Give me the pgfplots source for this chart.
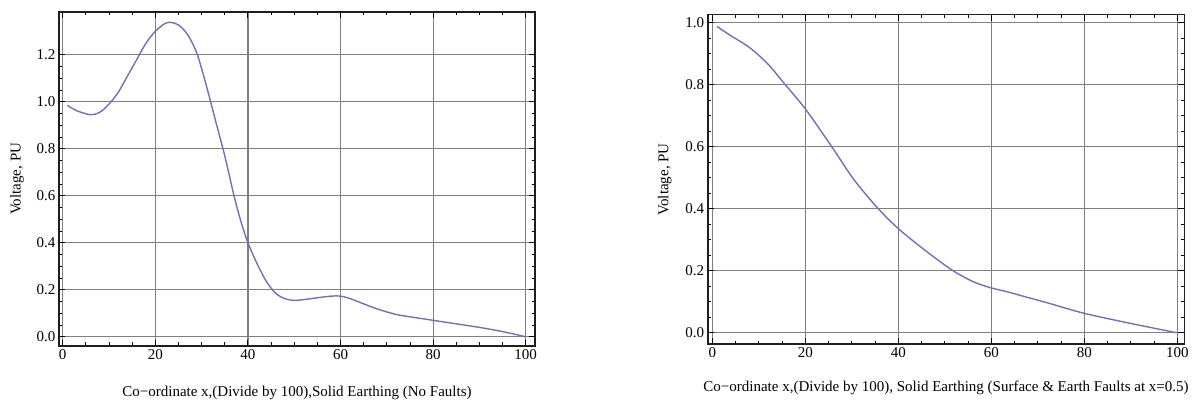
\documentclass[border=0pt]{standalone}
\usepackage{fontspec}
\setmainfont{Liberation Serif}
\usepackage{pgfplots}
\pgfplotsset{compat=1.18}
\usetikzlibrary{calc}

\definecolor{curve}{RGB}{112,112,190}
\definecolor{gridc}{RGB}{128,128,128}
\definecolor{framec}{RGB}{30,30,30}

\pgfplotsset{mma/.style={
  scale only axis, anchor=south west,
  axis line style={framec, line width=1.6bp},
  grid=major, major grid style={gridc, line width=1.2bp},
  minor tick num=3,
  tick style={black, line width=0.9bp},
  major tick length=6bp, minor tick length=3.5bp,
  tick align=inside,
  xtick={0,20,...,100},
  ticklabel style={font=\fontsize{15bp}{17bp}\selectfont},
  /pgf/number format/assume math mode=true,
  yticklabel style={/pgf/number format/.cd, fixed, fixed zerofill, precision=1},
  label style={font=\fontsize{15bp}{17bp}\selectfont},
}}

\begin{document}
\begin{tikzpicture}
\path[use as bounding box] (0,0) rectangle (1192bp,401bp);

% left panel: no faults
\begin{axis}[mma,
  at={(59bp,55.3bp)}, width=476bp, height=333.7bp,
  xmin=-0.8, xmax=102, ymin=-0.038, ymax=1.382,
  ytick={0,0.2,...,1.2},
  xlabel={Co−ordinate x,(Divide by 100),Solid Earthing (No Faults)},
  ylabel={Voltage, PU},
  xlabel style={at={(rel axis cs:0.5,0)}, anchor=center, yshift=-47bp},
  ylabel style={at={($(rel axis cs:0,0.5)+(-42bp,0)$)}, anchor=center},
]
\addplot[curve, line width=1.4bp, smooth] coordinates {
  (1,0.985) (3,0.962) (6,0.945) (8,0.955) (10,0.99) (12,1.04) (14,1.11)
  (16,1.18) (18,1.25) (20,1.30) (22,1.332) (23.2,1.338) (25,1.327)
  (27,1.285) (29,1.205) (31,1.07) (33,0.92) (35,0.77) (37,0.60) (38.5,0.49)
  (40,0.40) (42,0.31) (44,0.235) (46,0.185) (48,0.162) (50,0.155)
  (52,0.158) (55,0.166) (58,0.173) (60,0.173) (62,0.163) (65,0.14)
  (68,0.118) (72,0.095) (76,0.082) (80,0.07) (85,0.055) (90,0.04)
  (95,0.022) (100,0.0)
};
\end{axis}

% right panel: surface and earth faults
\begin{axis}[mma,
  at={(707.7bp,57bp)}, width=476.6bp, height=329.3bp,
  xmin=-1, xmax=101.5, ymin=-0.036, ymax=1.026,
  ytick={0,0.2,...,1.0},
  xlabel={Co−ordinate x,(Divide by 100), Solid Earthing (Surface \& Earth Faults at x=0.5)},
  ylabel={Voltage, PU},
  xlabel style={at={(rel axis cs:0.5,0)}, anchor=center, yshift=-44bp},
  ylabel style={at={($(rel axis cs:0,0.5)+(-43bp,0)$)}, anchor=center},
]
\addplot[curve, line width=1.4bp, smooth] coordinates {
  (1,0.988) (4,0.958) (8.1,0.919) (12,0.866) (15.3,0.807) (20,0.722)
  (25.7,0.6) (30.3,0.497) (35.4,0.405) (40,0.336) (46.1,0.262)
  (51.8,0.2) (56.1,0.165) (59.7,0.146) (63.5,0.132) (67.6,0.115)
  (72,0.097) (79.7,0.064) (89.1,0.033) (100,0.0)
};
\end{axis}
\end{tikzpicture}
\end{document}
